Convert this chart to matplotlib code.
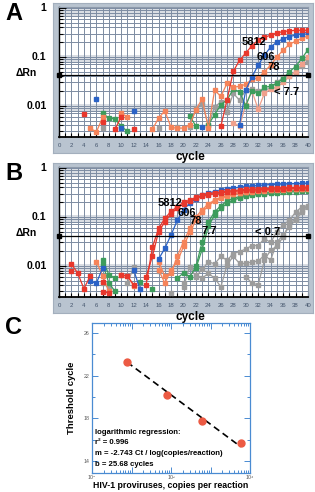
import numpy as np
import matplotlib
matplotlib.use('Agg')
import matplotlib.pyplot as plt
from matplotlib.ticker import LogLocator, NullFormatter, FixedLocator, MultipleLocator

plt.rcParams['font.family'] = ['Liberation Sans', 'DejaVu Sans']
n = None
cycles = list(range(1, 41))

# ---------------- Panel A (delta Rn per cycle) ----------------
a_5812 = [n, n, n, 0.0068, n,   n, 0.0046, n, 0.0033, 0.006,   n, 0.0034, n, n, n,   n, n, n, n, n,
          n, n, n, n, n,   0.0038, 0.0133, 0.051, 0.085, 0.12,   0.17, 0.22, 0.25, 0.28, 0.31,   0.33, 0.34, 0.35, 0.35, 0.35]
a_606 = [n, n, n, n, n,   0.0136, n, n, n, 0.0035,   n, 0.0077, n, n, n,   n, n, n, n, n,
         n, n, 0.0036, n, n,   n, n, n, 0.0041, 0.021,   0.039, 0.068, 0.108, 0.16, 0.2,   0.235, 0.26, 0.28, 0.30, 0.32]
a_78 = [n, n, n, n, 0.0035,   0.0029, 0.0058, n, n, 0.007,   0.006, n, n, n, 0.0033,   0.0056, 0.0079, 0.0036, 0.0035, 0.0035,
        0.0041, 0.0083, 0.014, 0.0035, 0.021,   0.0155, 0.029, 0.024, 0.025, 0.0275,   0.035, 0.037, 0.05, 0.068, 0.1,   0.137, 0.18, 0.21, 0.24, 0.27]
a_lt77 = [n, n, n, n, n,   n, 0.0071, 0.0056, 0.0054, 0.0038,   0.003, n, n, n, n,   n, n, n, n, n,
          0.0063, 0.0038, n, 0.0041, 0.0066,   0.0105, 0.0133, 0.0218, 0.0195, 0.01,   0.0205, 0.018, 0.024, 0.025, 0.029,   0.036, 0.05, 0.063, 0.093, 0.14]
a_gray = [n, n, n, n, n,   n, 0.0035, n, n, n,   n, n, n, n, n,   0.0035, n, n, 0.0037, n,
          0.0037, 0.009, 0.011, 0.004, 0.0095,   0.012, 0.0075, 0.018, 0.013, 0.021,   0.022, 0.02, 0.021, 0.023, 0.03,   0.038, 0.04, 0.05, 0.065, 0.08]
a_pink = [n, n, n, n, n,   n, n, n, n, n,   n, n, n, n, n,   n, n, n, n, n,
          n, n, n, n, n,   n, n, 0.0045, 0.0038, 0.0105,   0.02, 0.0085, 0.018, 0.022, 0.024,   0.03, 0.04, 0.05, 0.07, 0.1]

# ---------------- Panel B ----------------
b_5812a = [n, 0.0108, 0.0071, 0.0034, 0.0061,   n, 0.0029, 0.0028, n, 0.0066,   0.0061, 0.0041, n, 0.0041, 0.024,   0.058, 0.093, 0.13, 0.16, 0.2,
           0.22, 0.25, 0.275, 0.3, 0.31,   0.32, 0.335, 0.345, 0.355, 0.365,   0.37, 0.375, 0.38, 0.385, 0.39,   0.395, 0.4, 0.4, 0.405, 0.41]
b_5812b = [n, 0.0079, n, n, n,   n, 0.0046, n, n, n,   n, n, n, 0.006, 0.0155,   0.05, 0.079, 0.117, 0.15, 0.185,
           0.21, 0.24, 0.265, 0.285, 0.3,   0.31, 0.32, 0.33, 0.34, 0.35,   0.355, 0.36, 0.365, 0.37, 0.375,   0.38, 0.385, 0.385, 0.39, 0.39]
b_606 = [n, n, n, n, 0.0048,   0.0044, 0.009, n, n, n,   n, 0.0083, 0.0033, n, n,   0.0137, 0.0228, 0.0427, 0.085, 0.14,
         0.19, 0.235, 0.28, 0.31, 0.33,   0.35, 0.37, 0.39, 0.405, 0.42,   0.43, 0.44, 0.45, 0.46, 0.465,   0.47, 0.475, 0.48, 0.485, 0.49]
b_78a = [n, n, n, n, n,   0.0122, 0.0063, 0.003, n, 0.0066,   0.0061, 0.0039, n, n, n,   0.0122, 0.0061, 0.0071, 0.0155, 0.031,
         0.058, 0.1, 0.14, 0.185, 0.22,   0.25, 0.275, 0.3, 0.315, 0.33,   0.34, 0.35, 0.355, 0.36, 0.365,   0.37, 0.375, 0.38, 0.38, 0.385]
b_78b = [n, n, n, n, n,   n, n, n, n, n,   n, n, n, n, n,   0.0083, 0.0044, 0.0083, 0.012, 0.025,
         0.048, 0.085, 0.125, 0.17, 0.21,   0.24, 0.265, 0.29, 0.305, 0.32,   0.33, 0.34, 0.345, 0.35, 0.355,   0.36, 0.365, 0.37, 0.37, 0.375]
b_77a = [n, n, n, n, n,   n, 0.0133, 0.0066, 0.0056, n,   n, n, 0.0046, n, 0.0033,   n, n, n, 0.0056, 0.0071,
         0.0059, 0.0097, 0.031, 0.079, 0.126,   0.17, 0.21, 0.24, 0.26, 0.28,   0.295, 0.305, 0.315, 0.32, 0.33,   0.335, 0.34, 0.345, 0.35, 0.35]
b_77b = [n, n, n, n, n,   n, 0.011, 0.0045, 0.003, n,   n, n, n, n, n,   n, n, n, n, n,
         n, 0.009, 0.0217, 0.065, 0.108,   0.15, 0.19, 0.22, 0.245, 0.265,   0.28, 0.29, 0.3, 0.31, 0.315,   0.32, 0.325, 0.33, 0.335, 0.34]
b_lt07a = [n, n, n, n, n,   n, 0.0045, 0.0035, n, n,   0.0044, 0.0094, n, n, n,   0.008, n, 0.0028, n, 0.0037,
           0.0096, 0.006, 0.0085, 0.012, 0.011,   0.0155, 0.013, 0.0178, 0.0195, 0.022,   0.026, 0.026, 0.036, 0.03, 0.05,   0.068, 0.085, 0.125, 0.16, 0.17]
b_lt07b = [n, n, n, n, n,   n, n, n, n, n,   n, n, n, n, n,   n, n, n, n, 0.0044,
           n, 0.0065, 0.0056, 0.007, 0.0056,   0.0037, 0.0105, 0.0155, 0.0112, 0.0112,   0.012, 0.0125, 0.0165, 0.013, 0.031,   0.042, 0.063, 0.085, 0.125, 0.16]
b_lt07c = [n, n, n, n, n,   n, n, n, n, n,   n, n, n, n, n,   n, n, n, n, n,
           n, n, n, n, n,   n, n, n, n, 0.006,   0.0044, 0.0041, 0.013, 0.021, 0.025,   0.039, 0.073, 0.092, 0.137, 0.17]

threshold_a = 0.042
threshold_b = 0.041

# ---------------- Panel C ----------------
copies = [5812, 606, 78, 7.7]
ct = [15.7, 17.8, 20.2, 23.3]
reg_m = -2.743
reg_b = 25.68

RED = '#e8372c'
BLUE = '#2a62c6'
ORANGE = '#f5845a'
GREEN = '#3d9c5c'
GRAY = '#9c9c9c'
PINK = '#f0a08c'

W, H = 315, 492
fig = plt.figure(figsize=(W / 100, H / 100), dpi=100)


def fr(x0, y0, x1, y1):
    return [x0 / W, 1 - y1 / H, (x1 - x0) / W, (y1 - y0) / H]


def amp_panel(top, series, thr, texts, letter):
    # outer frame drawn as a background axes
    bg = fig.add_axes(fr(53, top - 4, 313, top + 146), zorder=-5)
    bg.set_facecolor('#b9c4d0')
    bg.set_xticks([])
    bg.set_yticks([])
    for s in bg.spines.values():
        s.set_color('#a3afbd')
        s.set_linewidth(0.8)
    ax = fig.add_axes(fr(59, top, 308, top + 130), zorder=1)
    ax.set_facecolor('white')
    ax.set_yscale('log')
    ax.set_xlim(0, 40)
    ax.set_ylim(0.0023, 1.05)
    for lo, hi in [(0.7, 1.05), (0.075, 0.11), (0.0075, 0.011)]:
        ax.axhspan(lo, hi, color='#d9dde3', zorder=0, lw=0)
    ax.xaxis.set_major_locator(MultipleLocator(2))
    ax.xaxis.set_minor_locator(MultipleLocator(1))
    ax.yaxis.set_major_locator(LogLocator(base=10))
    ax.yaxis.set_minor_locator(LogLocator(base=10, subs=np.arange(2, 10)))
    ax.yaxis.set_major_formatter(NullFormatter())
    ax.yaxis.set_minor_formatter(NullFormatter())
    ax.grid(True, which='both', color='#7d8ca2', lw=0.7, zorder=1)
    ax.tick_params(axis='x', which='both', direction='in', length=3, color='black', width=0.8,
                   labelsize=4.3, labelcolor='#44556c', pad=4)
    ax.tick_params(axis='y', which='both', direction='in', length=3, color='black', width=0.8)
    ax.tick_params(axis='y', which='major', length=5)
    for s in ['top', 'right']:
        ax.spines[s].set_color('#8e9aab')
    ax.spines['left'].set_color('black')
    ax.spines['left'].set_linewidth(1.0)
    ax.spines['bottom'].set_color('black')
    ax.spines['bottom'].set_linewidth(1.3)
    x = np.array(cycles)
    for vals, col in series:
        y = np.array(vals, dtype=float)
        ax.plot(x, y, color=col, lw=0.9, marker='s', ms=2.3, mec=col, mfc=col, zorder=3, clip_on=True)
    ax.axhline(thr, color='black', lw=0.9, zorder=4)
    ax.plot([0, 40], [thr, thr], ls='none', marker='s', ms=3, color='black', clip_on=False, zorder=5)
    tr = ax.get_yaxis_transform()
    for v, lab in [(1, '1'), (0.1, '0.1'), (0.01, '0.01')]:
        ax.text(-0.05, v, lab, transform=tr, ha='right', va='center', fontsize=7.5, fontweight='bold')
    ax.text(-0.09, thr * 1.12, 'ΔRn', transform=tr, ha='right', va='center', fontsize=7.5, fontweight='bold')
    for (cx, cy, s) in texts:
        ax.text(cx, cy, s, ha='center', va='center', fontsize=8, fontweight='bold', zorder=6)
    fig.text(190 / W, 1 - (top + 150) / H, 'cycle', ha='center', va='center', fontsize=8.5, fontweight='bold',
             zorder=10)
    fig.text(14 / W, 1 - (top + 7) / H, letter, ha='center', va='center', fontsize=17, fontweight='bold')
    return ax


amp_panel(7, [(a_gray, GRAY), (a_pink, PINK), (a_lt77, GREEN), (a_78, ORANGE), (a_606, BLUE), (a_5812, RED)],
          threshold_a,
          [(31.3, 0.2, '5812'), (33.2, 0.1, '606'), (34.5, 0.062, '78'), (36.5, 0.019, '< 7.7')], 'A')

amp_panel(167, [(b_lt07c, GRAY), (b_lt07b, GRAY), (b_lt07a, GRAY),
                (b_77b, GREEN), (b_77a, GREEN), (b_78b, ORANGE), (b_78a, ORANGE),
                (b_606, BLUE), (b_5812b, RED), (b_5812a, RED)],
          threshold_b,
          [(17.8, 0.195, '5812'), (20.5, 0.12, '606'), (22.0, 0.082, '78'), (24.1, 0.052, '7.7'),
           (33.5, 0.05, '< 0.7')], 'B')

# ---------------- Panel C axes ----------------
axc = fig.add_axes(fr(92, 323, 250, 473))
axc.set_xscale('log')
axc.set_xlim(1, 1e4)
axc.set_ylim(12.9, 26.9)
BL = '#4a8bd2'
for s in axc.spines.values():
    s.set_color(BL)
    s.set_linewidth(0.9)
axc.yaxis.set_major_locator(FixedLocator([14, 18, 22, 26]))
axc.yaxis.set_minor_locator(MultipleLocator(2))
axc.xaxis.set_minor_locator(LogLocator(base=10, subs=np.arange(2, 10), numticks=10))
axc.xaxis.set_minor_formatter(NullFormatter())
axc.set_xticks([1, 10, 100, 1000, 10000])
axc.set_xticklabels(['10⁰', '', '10²', '', '10⁴'])
axc.tick_params(which='both', direction='in', color=BL, top=True, right=True, labelsize=3.8,
                labelcolor='#555555', width=0.7, pad=1.5)
axc.tick_params(which='major', length=4)
axc.tick_params(which='minor', length=2)
xs = np.array([min(copies), max(copies)])
axc.plot(xs, reg_m * np.log10(xs) + reg_b, color='black', lw=1.2, ls=(0, (4, 2.5)), zorder=2)
axc.plot(copies, ct, ls='none', marker='o', ms=5, color='#ec5a43', mec='#ec5a43', zorder=3)
axc.set_ylabel('Threshold cycle', fontsize=6.8, fontweight='bold', labelpad=6)
axc.set_xlabel('HIV-1 proviruses, copies per reaction', fontsize=6.3, fontweight='bold', labelpad=0.5)
lines = ['logarithmic regression:', 'r² = 0.996', 'm = -2.743 Ct / log(copies/reaction)', 'b = 25.68 cycles']
for i, t in enumerate(lines):
    fig.text(95 / W, 1 - (432 + i * 10.8) / H, t, ha='left', va='center', fontsize=5.6, fontweight='bold')
fig.text(14 / W, 1 - 328 / H, 'C', ha='center', va='center', fontsize=17, fontweight='bold')

fig.savefig('out.png', dpi=100, facecolor='white')
